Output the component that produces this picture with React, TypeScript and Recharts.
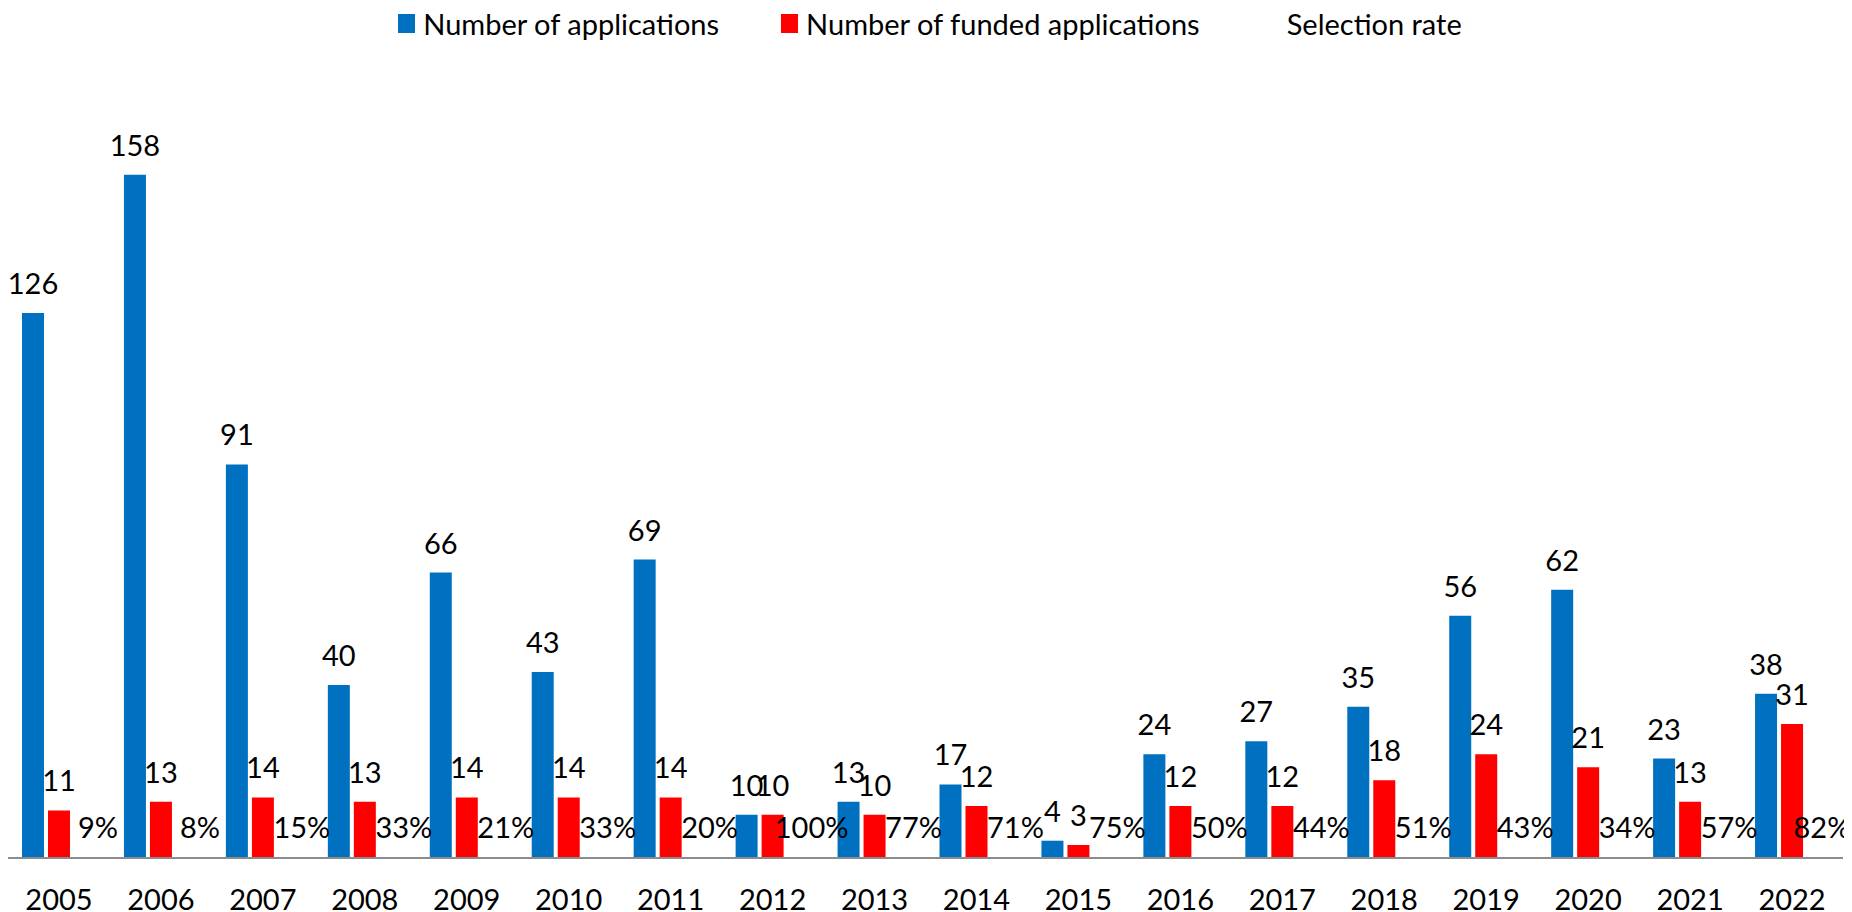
import React from 'react';
import { BarChart, Bar, XAxis, YAxis, Legend, LabelList } from 'recharts';

const years = ['2005', '2006', '2007', '2008', '2009', '2010', '2011', '2012', '2013', '2014', '2015', '2016', '2017', '2018', '2019', '2020', '2021', '2022'];
const applications = [126, 158, 91, 40, 66, 43, 69, 10, 13, 17, 4, 24, 27, 35, 56, 62, 23, 38];
const funded = [11, 13, 14, 13, 14, 14, 14, 10, 10, 12, 3, 12, 12, 18, 24, 21, 13, 31];
const selectionRate = [9, 8, 15, 33, 21, 33, 20, 100, 77, 71, 75, 50, 44, 51, 43, 34, 57, 82];

const data = years.map((year, i) => ({
  year,
  applications: applications[i],
  funded: funded[i],
  rate: selectionRate[i],
}));

const FONT = 'Lato, "Open Sans", sans-serif';
const FS = 29;
const W = 1844;
const H = 904;

// rate labels sit on a flat bar, just right of it (kept inside the chart)
const RateLabel = (props: any) => {
  const { x, y, width, height, value } = props;
  const cx = Math.min(x + width / 2 + 13, W - 30);
  return (
    <text
      x={cx}
      y={y + height - 20}
      textAnchor="middle"
      fontFamily={FONT}
      fontSize={FS}
      fill="#000"
    >
      {`${value}%`}
    </text>
  );
};

const renderLegend = (props: any) => {
  const { payload } = props;
  return (
    <div style={{ display: 'flex', justifyContent: 'center', alignItems: 'center', height: 30, fontFamily: FONT, fontSize: FS, color: '#000' }}>
      {payload.map((entry: any, i: number) => (
        <div key={`item-${i}`} style={{ display: 'flex', alignItems: 'center', marginLeft: i === 0 ? 0 : 62 }}>
          <span style={{ display: 'inline-block', width: 17, height: 19, background: entry.color, marginRight: 8 }} />
          <span>{entry.value}</span>
        </div>
      ))}
    </div>
  );
};

const App: React.FC = () => {
  return (
    <div style={{ width: W, height: H }}>
      <BarChart
        width={W}
        height={H}
        data={data}
        margin={{ top: 128, right: 9, bottom: 0, left: 0 }}
        barCategoryGap={14}
        barGap={4}
        style={{ overflow: 'visible' }}
      >
        <XAxis
          dataKey="year"
          height={54}
          tickLine={false}
          tickSize={0}
          tickMargin={31}
          axisLine={{ stroke: '#8c8c8c', strokeWidth: 2 }}
          tick={{ fill: '#000', fontFamily: FONT, fontSize: FS }}
          interval={0}
        />
        <YAxis yAxisId="count" domain={[0, 160]} hide />
        <YAxis yAxisId="rate" domain={[0, 1000000]} hide />
        <Legend
          verticalAlign="top"
          content={renderLegend}
          wrapperStyle={{ top: 0, left: 0, width: W }}
        />
        <Bar yAxisId="count" dataKey="applications" name="Number of applications" fill="#0070C0" barSize={22} isAnimationActive={false}>
          <LabelList dataKey="applications" position="top" offset={19} fill="#000" fontFamily={FONT} fontSize={FS} />
        </Bar>
        <Bar yAxisId="count" dataKey="funded" name="Number of funded applications" fill="#FF0000" barSize={22} isAnimationActive={false}>
          <LabelList dataKey="funded" position="top" offset={19} fill="#000" fontFamily={FONT} fontSize={FS} />
        </Bar>
        <Bar yAxisId="rate" dataKey="rate" name="Selection rate" fill="transparent" barSize={22} isAnimationActive={false}>
          <LabelList dataKey="rate" content={RateLabel} />
        </Bar>
      </BarChart>
    </div>
  );
};

export default App;
